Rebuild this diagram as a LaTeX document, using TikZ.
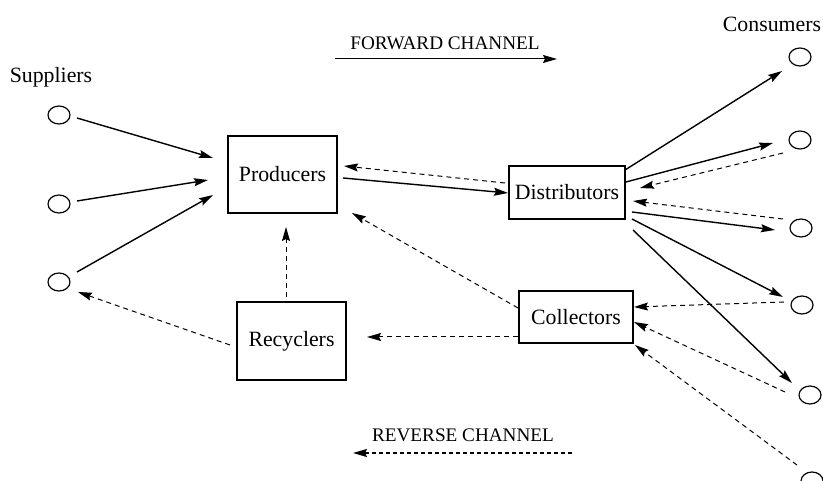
\documentclass[tikz,border=0pt]{standalone}
\usepackage{fontspec}
\setmainfont{Liberation Serif}
\usetikzlibrary{shapes.geometric,arrows.meta,calc}
\begin{document}
\begin{tikzpicture}[x=1pt,y=-1pt,
  every node/.style={inner sep=0pt},
  lbl/.style={font=\fontsize{21.8}{25}\selectfont},
  leg/.style={font=\fontsize{19.2}{22}\selectfont},
  boxnode/.style={draw,line width=1.2pt,font=\fontsize{21.8}{25}\selectfont},
  party/.style={draw,ellipse,line width=1.2pt,minimum width=22pt,minimum height=18pt},
  tip/.style={-{Stealth[length=14pt,width=8pt,inset=2pt]}},
  fwd/.style={tip,line width=1.4pt},
  rev/.style={tip,line width=1pt,dash pattern=on 5pt off 4pt}]
\useasboundingbox (0,0) rectangle (823,481);
% labels
\node[lbl] (suplbl) at (51,77) {Suppliers};
\node[lbl] (conlbl) at (772,24) {Consumers};
% suppliers
\node[party] (s1) at (59,115) {};
\node[party] (s2) at (59,204) {};
\node[party] (s3) at (59,282) {};
% consumers
\node[party] (k1) at (800,57) {};
\node[party] (k2) at (800,140) {};
\node[party] (k3) at (801,228) {};
\node[party] (k4) at (802,305) {};
\node[party] (k5) at (810,395) {};
\node[party] (k6) at (812,481) {};
% boxes
\node[boxnode,minimum width=109pt,minimum height=77pt] (prod) at (282.5,174.5) {Producers};
\node[boxnode,minimum width=109pt,minimum height=78pt] (rec) at (291.5,341) {Recyclers};
\node[boxnode,minimum width=116pt,minimum height=53pt] (dist) at (567,192.5) {Distributors};
\node[boxnode,minimum width=114pt,minimum height=52pt] (coll) at (576,317) {Collectors};
% suppliers -> producers
\draw[fwd] ($(s1)+(18,3)$) -- ($(prod)+(-69.5,-16.5)$);
\draw[fwd] ($(s2)+(18,-3)$) -- ($(prod)+(-74.5,5.5)$);
\draw[fwd] ($(s3)+(18,-10)$) -- ($(prod)+(-69.5,20.5)$);
% recyclers
\draw[rev] ($(rec)+(-61.5,4)$) -- ($(s3)+(19,10)$);
\draw[rev] ($(rec)+(-5.5,-44)$) -- ($(prod)+(3.5,52.5)$);
\draw[rev] ($(coll)+(-58,20)$) -- ($(rec)+(75.5,-4)$);
% producers <-> distributors
\draw[fwd] ($(prod)+(60.5,3.5)$) -- ($(dist)+(-59,0.5)$);
\draw[rev] ($(dist)+(-62,-9.5)$) -- ($(prod)+(61.5,-8.5)$);
\draw[rev] ($(coll)+(-58,-9)$) -- ($(prod)+(69.5,38.5)$);
% distributors -> consumers
\draw[fwd] ($(dist)+(58,-22.5)$) -- ($(k1)+(-18,14)$);
\draw[fwd] ($(dist)+(59,-10.5)$) -- ($(k2)+(-27,3)$);
\draw[rev] ($(k2)+(-17,13)$) -- ($(dist)+(73,-4.5)$);
\draw[rev] ($(k3)+(-18,-9)$) -- ($(dist)+(66,8.5)$);
\draw[fwd] ($(dist)+(65,19.5)$) -- ($(k3)+(-26,2)$);
\draw[fwd] ($(dist)+(65,26.5)$) -- ($(k4)+(-19,-8)$);
\draw[fwd] ($(dist)+(66,37.5)$) -- ($(k5)+(-18,-12)$);
% consumers -> collectors
\draw[rev] ($(k4)+(-18,-3)$) -- ($(coll)+(58,-10)$);
\draw[rev] ($(k5)+(-25,-3)$) -- ($(coll)+(58,5)$);
\draw[rev] ($(k6)+(-15,-16)$) -- ($(coll)+(59,28)$);
% legend
\node[leg] (fwdlbl) at (445,43) {FORWARD CHANNEL};
\coordinate (fa) at (335,59);
\coordinate (fb) at (557,59);
\draw[-{Stealth[length=14pt,width=8pt,inset=2pt]},line width=1pt] (fa) -- (fb);
\node[leg] (revlbl) at (463,435) {REVERSE CHANNEL};
\coordinate (ra) at (572,453);
\coordinate (rb) at (353,453);
\draw[-{Stealth[length=14pt,width=8pt,inset=2pt]},line width=1.7pt,dash pattern=on 4pt off 3pt] (ra) -- (rb);
\end{tikzpicture}
\end{document}
